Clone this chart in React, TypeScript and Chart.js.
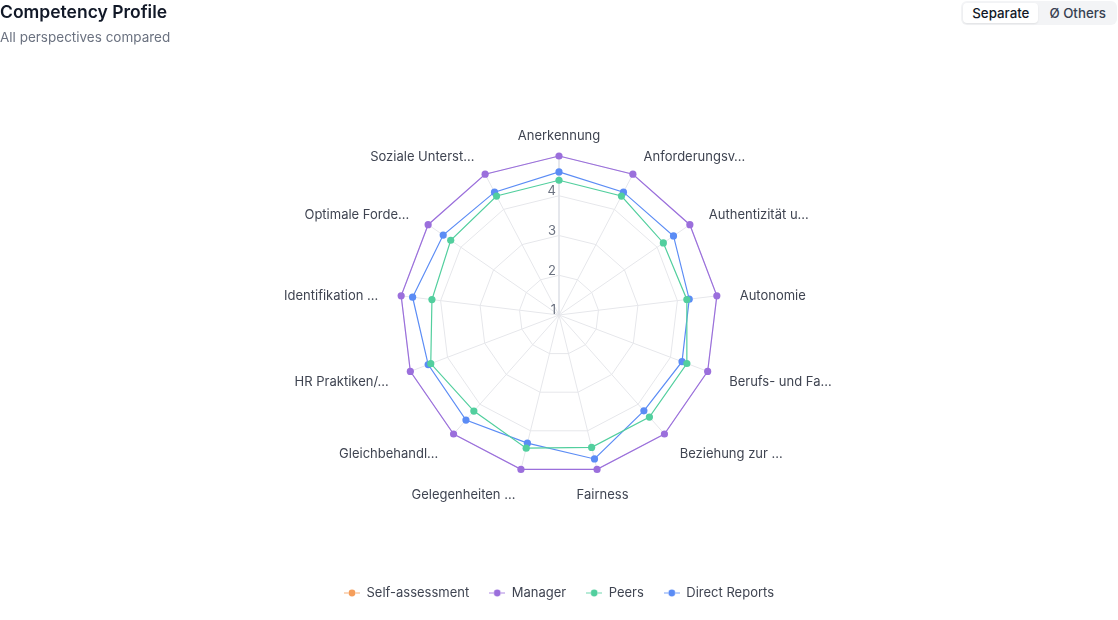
import React, { useEffect, useRef } from "react";
import { Chart, registerables } from "chart.js";

Chart.register(...registerables);

const categories = [
  "Anerkennung",
  "Anforderungsv…",
  "Authentizität u…",
  "Autonomie",
  "Berufs- und Fa…",
  "Beziehung zur …",
  "Fairness",
  "Gelegenheiten …",
  "Gleichbehandl…",
  "HR Praktiken/…",
  "Identifikation …",
  "Optimale Forde…",
  "Soziale Unterst…",
];

const seriesNames = ["Self-assessment", "Manager", "Peers", "Direct Reports"];
const seriesColors = ["#f59e5b", "#9b6fdc", "#52cf9e", "#5b8cf5"];

const selfAssessment = [null, null, null, null, null, null, null, null, null, null, null, null, null];
const manager = [5, 5, 5, 5, 5, 5, 5, 5, 5, 5, 5, 5, 5];
const peers = [4.39, 4.38, 4.19, 4.24, 4.44, 4.43, 4.43, 4.45, 4.23, 4.45, 4.22, 4.31, 4.38];
const directReports = [4.6, 4.49, 4.5, 4.3, 4.31, 4.22, 4.73, 4.32, 4.53, 4.52, 4.71, 4.54, 4.49];

const tickValues = [1, 2, 3, 4];
const scaleMin = 1;
const scaleMax = 5;

const FONT = "Inter, 'Noto Sans', sans-serif";

function makeIcon(color: string) {
  const c = document.createElement("canvas");
  c.width = 16;
  c.height = 8;
  const g = c.getContext("2d")!;
  g.strokeStyle = color;
  g.globalAlpha = 0.55;
  g.lineWidth = 1.5;
  g.beginPath();
  g.moveTo(0, 4);
  g.lineTo(4.5, 4);
  g.moveTo(11.5, 4);
  g.lineTo(16, 4);
  g.stroke();
  g.globalAlpha = 1;
  g.fillStyle = color;
  g.beginPath();
  g.arc(8, 4, 3.4, 0, Math.PI * 2);
  g.fill();
  return c;
}

const radarText = {
  id: "radarText",
  beforeDatasetsDraw(chart: any) {
    const scale = chart.scales.r;
    const ctx = chart.ctx;
    ctx.save();
    // radius axis line
    const top = scale.getPointPositionForValue(0, scaleMax);
    ctx.strokeStyle = "#e2e4ea";
    ctx.lineWidth = 1.6;
    ctx.beginPath();
    ctx.moveTo(scale.xCenter, scale.yCenter);
    ctx.lineTo(top.x, top.y);
    ctx.stroke();
    // tick labels
    ctx.font = "13px " + FONT;
    ctx.fillStyle = "#6b7280";
    ctx.textAlign = "right";
    ctx.textBaseline = "middle";
    tickValues.forEach((v) => {
      const d = scale.getDistanceFromCenterForValue(v);
      ctx.fillText(String(v), scale.xCenter - 3, scale.yCenter - d - 4.5);
    });
    ctx.restore();
  },
  afterDraw(chart: any) {
    const scale = chart.scales.r;
    const ctx = chart.ctx;
    ctx.save();
    ctx.font = "13px " + FONT;
    ctx.fillStyle = "#3f4451";
    ctx.textBaseline = "middle";
    const R = scale.drawingArea + 23;
    categories.forEach((c, i) => {
      const p = scale.getPointPosition(i, R);
      const dx = p.x - scale.xCenter;
      ctx.textAlign = Math.abs(dx) < 1 || (dx > 0 && dx < 50) ? "center" : dx > 0 ? "left" : "right";
      ctx.fillText(c, p.x, p.y + 3);
    });
    ctx.restore();
  },
};

export default function App() {
  const ref = useRef<HTMLCanvasElement | null>(null);

  useEffect(() => {
    document.body.style.margin = "0";
    const icons = seriesColors.map(makeIcon);
    const values = [selfAssessment, manager, peers, directReports];
    const chart = new Chart(ref.current!, {
      type: "radar",
      data: {
        labels: categories,
        datasets: seriesNames.map((name, i) => ({
          label: name,
          data: values[i] as any,
          borderColor: seriesColors[i],
          backgroundColor: seriesColors[i],
          pointBackgroundColor: seriesColors[i],
          pointBorderColor: seriesColors[i],
          pointRadius: 3.6,
          pointBorderWidth: 0,
          borderWidth: 1.2,
          fill: false,
          spanGaps: false,
        })),
      },
      options: {
        animation: false,
        responsive: true,
        maintainAspectRatio: false,
        layout: { padding: { top: 156, bottom: 10.5, left: 0, right: 0 } },
        scales: {
          r: {
            min: scaleMin,
            max: scaleMax,
            ticks: { display: false, stepSize: 1 },
            pointLabels: { display: false },
            grid: { color: "#e6e7eb", lineWidth: 1 },
            angleLines: { color: "#e6e7eb", lineWidth: 1 },
          },
        },
        plugins: {
          tooltip: { enabled: false },
          legend: {
            position: "bottom",
            title: {
              display: true,
              text: "",
              padding: { top: 80.5, bottom: 0 },
              font: { size: 12, lineHeight: 1 },
            },
            labels: {
              usePointStyle: true,
              pointStyleWidth: 16,
              padding: 20,
              color: "#3f4451",
              font: { family: FONT, size: 13 },
              generateLabels(ch: any) {
                const items = (Chart.defaults.plugins.legend.labels as any).generateLabels(ch);
                return items.map((it: any, i: number) => ({ ...it, pointStyle: icons[i] }));
              },
            },
          },
        },
      },
      plugins: [radarText],
    } as any);
    return () => chart.destroy();
  }, []);

  return (
    <div style={{ position: "relative", width: 1118, height: 620, fontFamily: FONT, overflow: "hidden" }}>
      <canvas ref={ref} style={{ position: "absolute", left: 0, top: 0 }} />
      <div style={{ position: "absolute", left: 0, top: 1, fontSize: 17.5, lineHeight: "22px", fontWeight: 600, color: "#111827" }}>
        Competency Profile
      </div>
      <div style={{ position: "absolute", left: 0, top: 29, fontSize: 13.5, lineHeight: "17px", color: "#6b7280" }}>
        All perspectives compared
      </div>
      <div
        style={{
          position: "absolute",
          right: 1,
          top: 1,
          display: "flex",
          background: "#f3f4f6",
          borderRadius: 6,
          padding: 2,
          gap: 2,
        }}
      >
        <div
          style={{
            padding: "2px 9px",
            fontSize: 13.3,
            lineHeight: "16px",
            fontWeight: 500,
            color: "#111827",
            background: "#ffffff",
            borderRadius: 4,
            boxShadow: "0 1px 2px rgba(0,0,0,0.08)",
          }}
        >
          Separate
        </div>
        <div
          style={{
            padding: "2px 9px",
            fontSize: 13.3,
            lineHeight: "16px",
            fontWeight: 500,
            color: "#374151",
            borderRadius: 4,
          }}
        >
          Ø Others
        </div>
      </div>
    </div>
  );
}
